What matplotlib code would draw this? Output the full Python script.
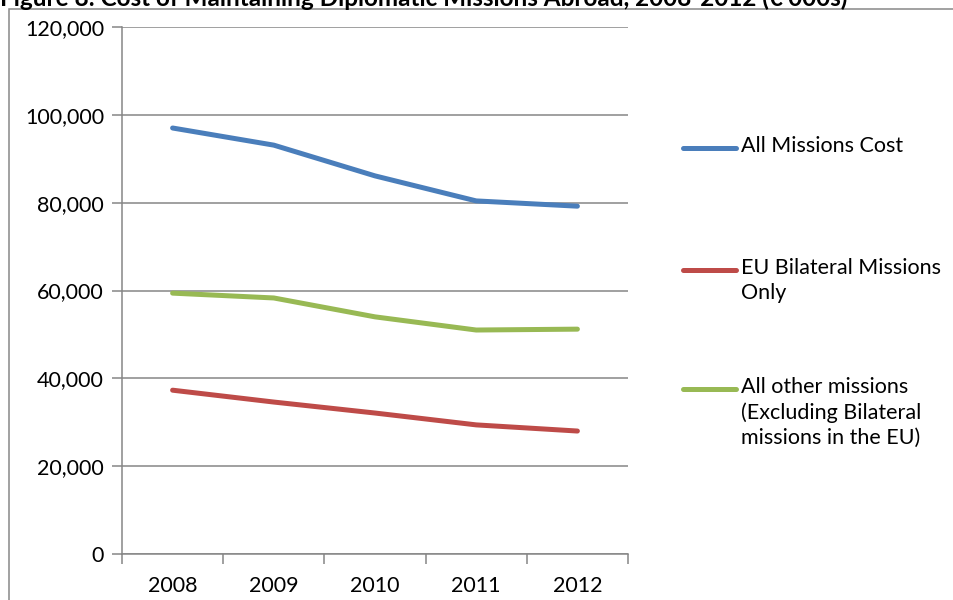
import matplotlib
matplotlib.use("Agg")
import matplotlib.pyplot as plt
from matplotlib.lines import Line2D
from matplotlib.patches import Rectangle
from matplotlib.ticker import FuncFormatter, FixedLocator

plt.rcParams['font.family'] = ['Lato', 'DejaVu Sans']

years = ['2008', '2009', '2010', '2011', '2012']
all_missions = [97000, 93100, 86100, 80400, 79200]
eu_bilateral = [37300, 34600, 32100, 29400, 28000]
all_other = [59400, 58300, 54000, 51000, 51200]

labels = ['All Missions Cost',
          'EU Bilateral Missions\nOnly',
          'All other missions\n(Excluding Bilateral\nmissions in the EU)']
colors = ['#4a7ebb', '#be4b48', '#98b954']

W, H = 954, 600
fig = plt.figure(figsize=(W / 100, H / 100), dpi=100)
ax = fig.add_axes([122 / W, 1 - 554 / H, (628 - 122) / W, (554 - 27) / H])

x = range(len(years))
for vals, c in zip([all_missions, eu_bilateral, all_other], colors):
    ax.plot(x, vals, color=c, lw=3.6, solid_capstyle='round', solid_joinstyle='round')

ax.set_xlim(-0.5, len(years) - 0.5)
ax.set_ylim(0, 120000)
ax.set_yticks(range(0, 120001, 20000))
ax.yaxis.set_major_formatter(FuncFormatter(lambda v, p: f"{int(v):,}"))
ax.grid(axis='y', color='#868686', lw=1.1)
ax.set_axisbelow(True)

ax.set_xticks(list(x))
ax.set_xticklabels(years)
ax.xaxis.set_minor_locator(FixedLocator([i - 0.5 for i in range(len(years) + 1)]))
ax.tick_params(axis='x', which='major', length=0, pad=16, labelsize=15.5)
ax.tick_params(axis='x', which='minor', length=7, color='#868686', width=1.1)
ax.tick_params(axis='y', length=7, color='#868686', width=1.1, pad=6, labelsize=15.5)

for s in ['top', 'right']:
    ax.spines[s].set_visible(False)
for s in ['left', 'bottom']:
    ax.spines[s].set_color('#868686')
    ax.spines[s].set_linewidth(1.1)

# legend drawn by hand to the right of the plot
leg_y = [148, 270, 389]
for lab, c, yy in zip(labels, colors, leg_y):
    fy = 1 - yy / H
    fig.add_artist(Line2D([683 / W, 736 / W], [fy, fy], color=c, lw=3.6,
                          solid_capstyle='round', transform=fig.transFigure))
    fig.text(741 / W, 1 - (yy - 12) / H, lab, fontsize=15.5, va='top', ha='left',
             linespacing=1.32)

# chart border and clipped title
fig.add_artist(Rectangle((9 / W, -0.5), 2, 1.5 - 9 / H, transform=fig.transFigure,
                         fill=False, edgecolor='#888888', lw=1.1))
fig.text(0.0, 1 - 6 / H,
         "Figure 8: Cost of Maintaining Diplomatic Missions Abroad, 2008-2012 (\u20ac'000s)",
         fontsize=17.5, fontweight='bold', va='baseline', ha='left')

fig.savefig('out.png', dpi=100)
